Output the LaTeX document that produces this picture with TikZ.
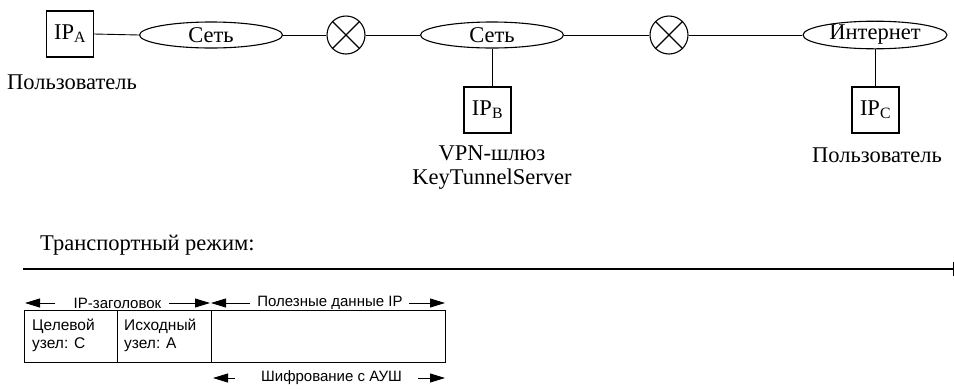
\documentclass[tikz,border=0pt]{standalone}
\usepackage{fontspec}
\setmainfont{Liberation Serif}
\setsansfont{Liberation Sans}
\usetikzlibrary{shapes.geometric,arrows.meta}
\begin{document}
\begin{tikzpicture}[x=1pt,y=-1pt,
  every node/.style={inner sep=0pt},
  lbl/.style={font=\fontsize{22.5}{26}\selectfont},
  ipbox/.style={draw,line width=1.1pt,minimum width=47pt,minimum height=46pt,font=\fontsize{22.5}{26}\selectfont},
  net/.style={draw,ellipse,line width=1.1pt,minimum width=143pt,minimum height=26pt,font=\fontsize{22.5}{26}\selectfont},
  xnode/.style={draw,circle,line width=1.1pt,minimum size=38pt,
    path picture={\draw[line width=1.1pt] (path picture bounding box.north west)--(path picture bounding box.south east)
      (path picture bounding box.north east)--(path picture bounding box.south west);}},
  wire/.style={line width=0.9pt},
  sml/.style={font=\sffamily\fontsize{15}{18}\selectfont},
  cell/.style={anchor=north west,align=left,font=\sffamily\fontsize{15.5}{17.5}\selectfont},
  arr/.style={line width=0.9pt,-{Triangle[length=15pt,width=9pt]}}
]
\useasboundingbox (0,0) rectangle (954,389);
% top network
\node[ipbox] (A) at (70,34) {IP\textsubscript{A}};
\node[lbl] (uA) at (72,82) {Пользователь};
\node[net] (E1) at (211,35) {Сеть};
\node[xnode] (X1) at (346,35) {};
\node[net] (E2) at (492,35) {Сеть};
\node[ipbox] (B) at (487.5,110) {IP\textsubscript{B}};
\node[lbl] (vpn) at (492,153) {VPN-шлюз};
\node[lbl] (kts) at (492,179) {KeyTunnelServer};
\node[xnode] (X2) at (669,35) {};
\node[net,minimum width=144pt] (E3) at (875,35) {Интернет};
\node[ipbox] (C) at (875.5,110) {IP\textsubscript{C}};
\node[lbl] (uC) at (877,155) {Пользователь};
\draw[wire] (A.east) -- (E1.west);
\draw[wire] (E1.east) -- (X1.west);
\draw[wire] (X1.east) -- (E2.west);
\draw[wire] (E2.east) -- (X2.west);
\draw[wire] (X2.east) -- (E3.west);
\draw[wire] (E2.south) -- (E2.south |- B.north);
\draw[wire] (E3.south) -- (E3.south |- C.north);
% transport mode
\node[lbl,anchor=west] (tm) at (40,245) {Транспортный режим:};
\coordinate (L0) at (23,269);
\coordinate (L1) at (953,269);
\draw[line width=1.4pt] (L0) -- (L1);
\draw[line width=0.8pt] ([yshift=-7pt]L1) -- ([yshift=7pt]L1);
% header labels
\node[sml] (iph) at (117.5,303) {IP-заголовок};
\node[sml] (pay) at (330,303) {Полезные данные IP};
\coordinate (a1) at (25,303);   \coordinate (t1) at (55,303);
\coordinate (a2) at (210,303);  \coordinate (t2) at (169,303);
\coordinate (a3) at (211,303);  \coordinate (t3) at (250,303);
\coordinate (a4) at (445,303);  \coordinate (t4) at (409,303);
\draw[arr] (t1) -- (a1);
\draw[arr] (t2) -- (a2);
\draw[arr] (t3) -- (a3);
\draw[arr] (t4) -- (a4);
% packet box
\node[draw,line width=0.9pt,minimum width=93pt,minimum height=52pt,anchor=north west] (c1) at (24,310) {};
\node[draw,line width=0.9pt,minimum width=94pt,minimum height=52pt,anchor=north west] (c2) at (117,310) {};
\node[draw,line width=0.9pt,minimum width=234pt,minimum height=52pt,anchor=north west] (c3) at (211,310) {};
\node[cell] (tx1) at ([xshift=8pt,yshift=-9pt]c1.north west) {Целевой\\узел: C};
\node[cell] (tx2) at ([xshift=7pt,yshift=-9pt]c2.north west) {Исходный\\узел: A};
% encryption
\node[sml] (enc) at (331.5,378) {Шифрование с АУШ};
\coordinate (b1) at (213,378);  \coordinate (s1) at (235,378);
\coordinate (b2) at (445,378);  \coordinate (s2) at (418,378);
\draw[arr] (s1) -- (b1);
\draw[arr] (s2) -- (b2);
\end{tikzpicture}
\end{document}
